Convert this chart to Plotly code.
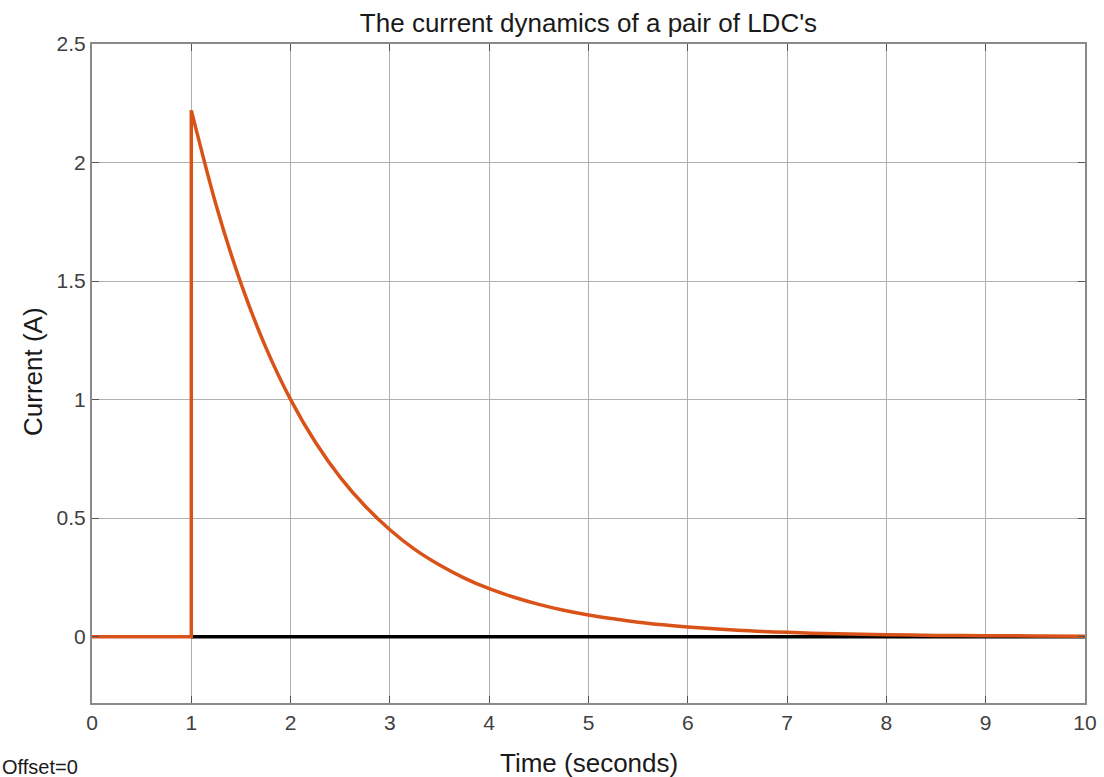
import plotly.graph_objects as go

# Data
step_time = [0, 1.0, 1.0]
step_current = [0, 0, 2.22]
decay_time = [1.0, 1.25, 1.5, 1.75, 2.0, 2.25, 2.5, 2.75, 3.0, 3.25, 3.5, 3.75,
              4.0, 4.25, 4.5, 4.75, 5.0, 5.25, 5.5, 5.75, 6.0, 6.5, 7.0, 7.5, 8.0,
              8.5, 9.0, 9.5, 10.0]
decay_current = [2.22, 1.82, 1.49, 1.22, 1.00, 0.82, 0.672, 0.551, 0.451, 0.368, 0.302, 0.247,
                 0.202, 0.166, 0.136, 0.111, 0.091, 0.075, 0.061, 0.050, 0.041, 0.027, 0.018,
                 0.012, 0.008, 0.005, 0.004, 0.003, 0.002]
ref_time = [1, 10]
ref_current = [0, 0]

x_ticks = [0, 1, 2, 3, 4, 5, 6, 7, 8, 9, 10]
y_ticks = [0, 0.5, 1, 1.5, 2, 2.5]
y_tick_labels = ["0", "0.5", "1", "1.5", "2", "2.5"]

font = "Liberation Sans, Arial, Helvetica, sans-serif"
orange = "#D95319"

fig = go.Figure()
fig.add_trace(go.Scatter(x=ref_time, y=ref_current, mode="lines",
                         line=dict(color="#000000", width=3.5), showlegend=False))
fig.add_trace(go.Scatter(x=step_time, y=step_current, mode="lines",
                         line=dict(color=orange, width=3.5), showlegend=False))
fig.add_trace(go.Scatter(x=decay_time, y=decay_current, mode="lines",
                         line=dict(color=orange, width=3.5, shape="spline", smoothing=0.8),
                         showlegend=False))

axis_common = dict(
    showline=True, linecolor="#8a8a8a", linewidth=2, mirror="ticks",
    ticks="inside", ticklen=7, tickcolor="#555555", tickwidth=1,
    showgrid=True, gridcolor="#b0b0b0", gridwidth=1, zeroline=False,
    automargin=False,
    tickfont=dict(family=font, size=21, color="#404040"),
)

fig.update_layout(
    width=1104, height=777,
    margin=dict(l=92, r=19, t=44, b=74, autoexpand=False),
    paper_bgcolor="white", plot_bgcolor="white",
    title=dict(text="The current dynamics of a pair of LDC's", x=588.5 / 1104, xanchor="center",
               y=1 - 23 / 777, yanchor="middle",
               font=dict(family=font, size=26, color="#1a1a1a")),
    xaxis=dict(range=[0, 10], tickvals=x_ticks, ticktext=[str(v) for v in x_ticks],
               **axis_common),
    yaxis=dict(range=[-0.28, 2.5], tickvals=y_ticks, ticktext=y_tick_labels,
               **axis_common),
    annotations=[
        dict(text="Time (seconds)", xref="paper", yref="paper", x=0.5, y=-60 / 659,
             xanchor="center", yanchor="middle", showarrow=False,
             font=dict(family=font, size=26, color="#1a1a1a")),
        dict(text="Current (A)", xref="paper", yref="paper", x=-59 / 993, y=(703 - 372) / 659,
             xanchor="center", yanchor="middle", showarrow=False, textangle=-90,
             font=dict(family=font, size=26, color="#1a1a1a")),
        dict(text="Offset=0", xref="paper", yref="paper", x=-92 / 993, y=-64 / 659,
             xanchor="left", yanchor="middle", showarrow=False,
             font=dict(family=font, size=20, color="#1a1a1a")),
    ],
)

fig.write_html("out.html")
